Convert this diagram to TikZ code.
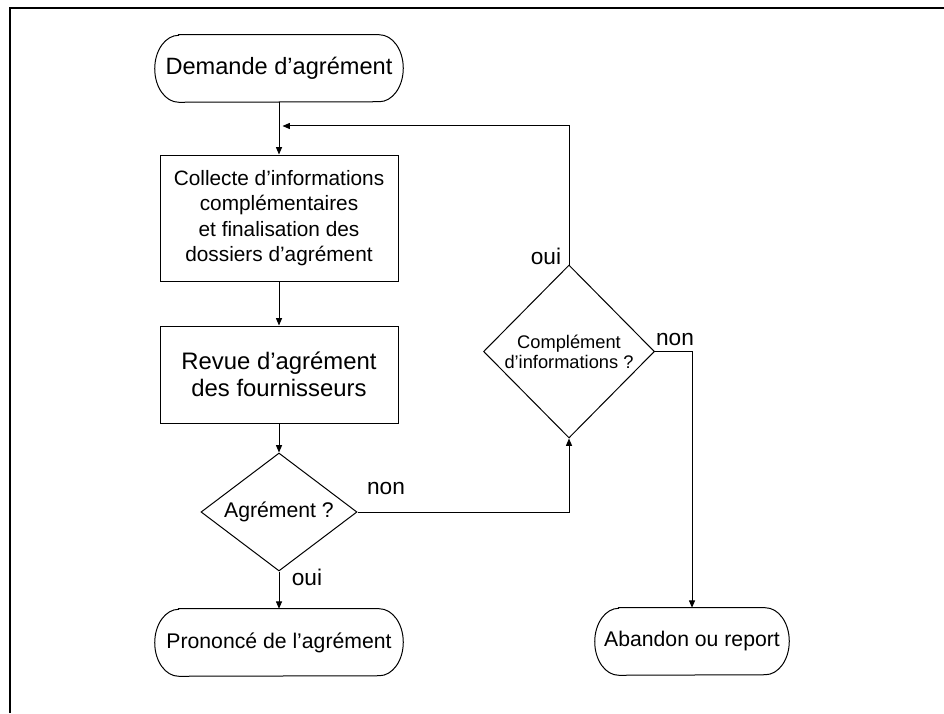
\documentclass[tikz,border=0pt]{standalone}
\usepackage{fontspec}
\setmainfont{Liberation Sans}
\usetikzlibrary{shapes.geometric,arrows.meta}
\begin{document}
\begin{tikzpicture}[x=0.75pt,y=-0.75pt,
  outline/.style={draw=black,line width=0.75pt},
  terminal/.style={minimum width=186pt,minimum height=50.25pt,inner sep=0pt,
    font=\fontsize{15.9}{19}\selectfont},
  process/.style={outline,rectangle,minimum width=178.5pt,inner sep=0pt,align=center},
  decision/.style={outline,diamond,inner sep=0pt,align=center},
  flow/.style={line width=0.75pt,-{Triangle[length=5.5pt,width=4.5pt]}},
  tag/.style={inner sep=0pt,font=\fontsize{17}{20}\selectfont}]
\useasboundingbox (0,0) rectangle (944,713);
% frame
\draw[line width=1.5pt] (9.7,713) -- (9.7,7.8) -- (944,7.8);

% nodes
\node[terminal,font=\fontsize{17.7}{20}\selectfont] (start) at (279,68.5) {Demande d’agrément};
\node[process,minimum height=94.5pt,font=\fontsize{15.6}{19}\selectfont] (collect) at (279,218)
  {Collecte d’informations\\complémentaires\\et finalisation des\\dossiers d’agrément};
\node[process,minimum height=72.75pt,font=\fontsize{17.9}{20}\selectfont] (review) at (279,374.5)
  {Revue d’agrément\\des fournisseurs};
\node[decision,minimum width=117pt,minimum height=88.5pt,aspect=1.32,
  font=\fontsize{15.9}{18}\selectfont] (agr) at (279,512) {Agrément ?};
\node[terminal] (accept) at (279,642.5) {Prononcé de l’agrément};
\node[decision,minimum width=128.25pt,minimum height=129.75pt,aspect=1,
  font=\fontsize{13.7}{15}\selectfont] (comp) at (569,351.5) {Complément\\d’informations ?};
\node[terminal,minimum width=145.5pt] (abandon) at (692,641.5) {Abandon ou report};

% terminal outlines with half-elliptic ends
\foreach \n in {start,accept,abandon}
  \draw[outline] ([xshift=18pt]\n.north west) -- ([xshift=-18pt]\n.north east)
    arc[start angle=90,end angle=-90,x radius=18pt,y radius=25.125pt]
    -- ([xshift=18pt]\n.south west)
    arc[start angle=270,end angle=90,x radius=18pt,y radius=25.125pt] -- cycle;

% connectors
\coordinate (merge) at (282.5,126);
\draw[flow] (start.south) -- (collect.north);
\draw[flow] (collect.south) -- (review.north);
\draw[flow] (review.south) -- (agr.north);
\draw[flow] (agr.south) -- (accept.north);
\draw[flow] (agr.east) -| (comp.south);
\draw[flow] (comp.east) -| (abandon.north);
\draw[flow] (comp.north) |- (merge);

% branch labels
\node[tag] (nonA) at (386,489) {non};
\node[tag] (ouiA) at (307,577) {oui};
\node[tag] (ouiB) at (546,256) {oui};
\node[tag] (nonB) at (675,340) {non};
\end{tikzpicture}
\end{document}
